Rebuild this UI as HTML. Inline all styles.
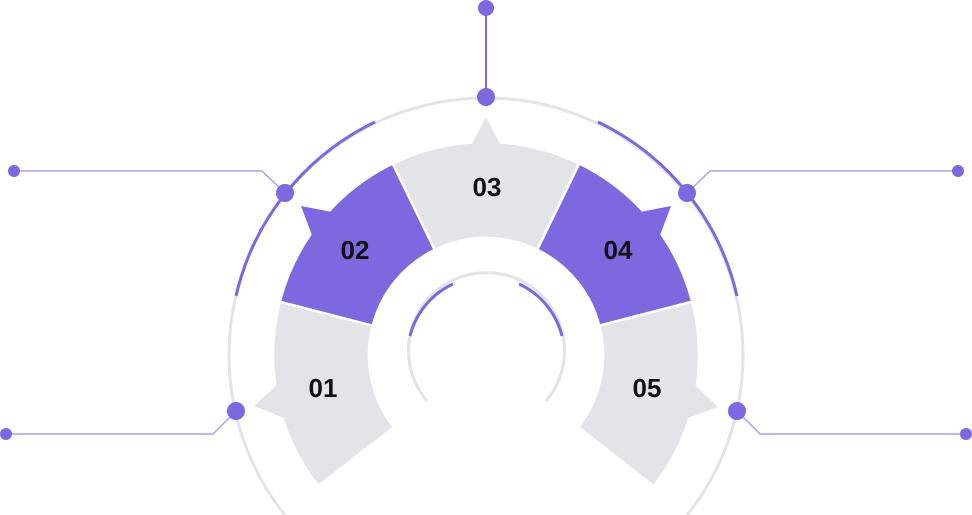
<!DOCTYPE html>
<html><head><meta charset="utf-8"><style>
html,body{margin:0;padding:0;background:#fff;width:972px;height:515px;overflow:hidden;}
svg{display:block;}
text{font-family:"Liberation Sans",sans-serif;font-weight:bold;font-size:26px;fill:#111;text-anchor:middle;}
</style></head><body>
<svg width="972" height="515" viewBox="0 0 972 515">
<circle cx="486" cy="355" r="257" fill="none" stroke="#e3e3e9" stroke-width="3"/>
<path d="M236 296 A257 257 0 0 1 375 122" fill="none" stroke="#7d68e0" stroke-width="3"/>
<path d="M598 122 A257 257 0 0 1 737 296" fill="none" stroke="#7d68e0" stroke-width="3"/>
<path d="M427 401 A78 78 0 1 1 546 401" fill="none" stroke="#e3e3e9" stroke-width="3"/>
<path d="M410 336 A78 78 0 0 1 453 284" fill="none" stroke="#7d68e0" stroke-width="3"/>
<path d="M519 284 A78 78 0 0 1 562 336" fill="none" stroke="#7d68e0" stroke-width="3"/>
<g stroke="#ab9ff0" stroke-width="1.5" fill="none">
<line x1="486" y1="8" x2="486" y2="97" stroke="#7d68e0" stroke-width="2"/>
<polyline points="14,171 262,171 285,193"/>
<polyline points="958,171 710,171 687,193"/>
<polyline points="6,434 213,434 236,411"/>
<polyline points="966,434 760,434 737,411"/>
</g>
<g stroke="#fff" stroke-width="2.5" stroke-linejoin="round">
<path fill="#e3e4e8" d="M318.2 486.2 A213 213 0 0 1 279.8 301.7 L372.7 325.7 A117 117 0 0 0 393.8 427.1 Z"/>
<path fill="#7d68e0" d="M279.8 301.7 A213 213 0 0 1 392.7 163.5 L434.8 249.8 A117 117 0 0 0 372.7 325.7 Z"/>
<path fill="#e3e4e8" d="M392.7 163.5 A213 213 0 0 1 579.3 163.5 L537.2 249.8 A117 117 0 0 0 434.8 249.8 Z"/>
<path fill="#7d68e0" d="M579.3 163.5 A213 213 0 0 1 692.2 301.7 L599.3 325.7 A117 117 0 0 0 537.2 249.8 Z"/>
<path fill="#e3e4e8" d="M692.2 301.7 A213 213 0 0 1 653.8 486.2 L578.2 427.1 A117 117 0 0 0 599.3 325.7 Z"/>
</g>
<polygon fill="#e3e4e8" points="472,144 486,117 500,144"/>
<polygon fill="#7d68e0" points="332,212 301,206 313,238 320,225"/>
<polygon fill="#7d68e0" points="640,212 671,206 659,238 652,225"/>
<polygon fill="#e3e4e8" points="277,385 254,406 284,418"/>
<polygon fill="#e3e4e8" points="695,385 718,407 688,418"/>
<g fill="#7d68e0">
<circle cx="486" cy="8" r="8"/>
<circle cx="486" cy="97" r="9"/>
<circle cx="285" cy="193" r="9"/>
<circle cx="687" cy="193" r="9"/>
<circle cx="236" cy="411" r="9"/>
<circle cx="737" cy="411" r="9"/>
<circle cx="14" cy="171" r="6"/>
<circle cx="958" cy="171" r="6"/>
<circle cx="6" cy="434" r="6"/>
<circle cx="966" cy="434" r="6"/>
</g>
<text x="487" y="196">03</text>
<text x="355" y="259">02</text>
<text x="618" y="259">04</text>
<text x="323" y="397">01</text>
<text x="647" y="397">05</text>
</svg>
</body></html>
